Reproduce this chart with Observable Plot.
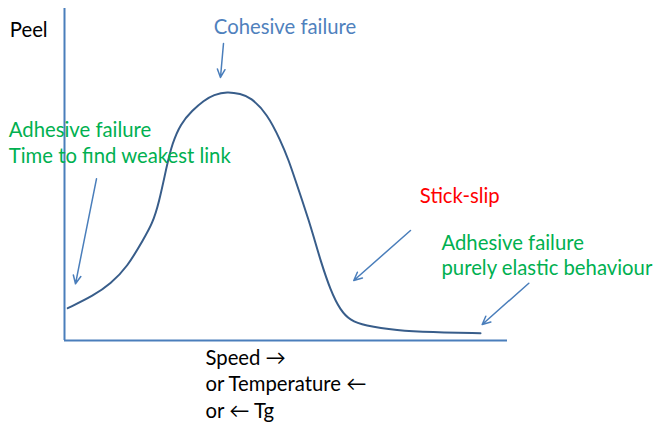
<!DOCTYPE html>
<html>
<head>
<meta charset="utf-8">
<script src="https://cdn.jsdelivr.net/npm/d3@7"></script>
<script src="https://cdn.jsdelivr.net/npm/@observablehq/plot@0.6"></script>
<style>
  html, body { margin: 0; padding: 0; background: #fff; }
  #chart svg { display: block; }
</style>
</head>
<body>
<div id="chart"></div>
<script>
// Peel strength vs speed (schematic), data units 0..100 on both axes
const speed = [0.74, 6.61, 10.38, 14.15, 17.90, 19.80, 21.29, 23.18, 24.31, 26.19, 28.83, 31.44, 33.70, 36.73, 39.73, 41.99, 45.76, 48.76, 50.63, 52.14, 53.66, 55.15, 56.28, 57.79, 60.05, 62.30, 64.56, 67.56, 75.10, 82.62, 93.91];
const peel  = [9.73, 13.55, 17.08, 22.08, 30.63, 35.15, 41.17, 53.22, 59.25, 65.27, 69.28, 72.29, 74.01, 75.00, 74.31, 73.28, 68.28, 60.24, 54.22, 48.19, 42.17, 36.14, 31.11, 24.10, 15.06, 9.04, 6.02, 4.52, 3.01, 2.50, 2.20];

// annotation texts
const labelText  = ["Peel", "Cohesive failure", "Adhesive failure", "Time to find weakest link", "Stick-slip", "Adhesive failure", "purely elastic behaviour", "Speed \u2192", "or Temperature \u2190", "or \u2190 Tg"];
const labelX     = [-12.35, 33.71, -12.57, -12.57, 80.21, 85.10, 85.10, 31.83, 31.83, 31.83];
const labelY     = [91.36, 92.37, 61.24, 53.40, 41.36, 27.11, 19.58, -7.33, -15.26, -23.29];
const labelKind  = ["axis", "cohesive", "adhesive", "adhesive", "stick", "adhesive", "adhesive", "axis", "axis", "axis"];

// annotation arrows (from -> to)
const arrowX1 = [35.89, 7.22, 78.10, 104.81];
const arrowY1 = [89.46, 48.70, 33.13, 17.26];
const arrowX2 = [35.21, 2.48, 65.30, 94.29];
const arrowY2 = [79.22, 17.08, 18.07, 4.82];

const curve = speed.map((s, i) => ({speed: s, peel: peel[i]}));
const labels = labelText.map((t, i) => ({text: t, x: labelX[i], y: labelY[i], kind: labelKind[i]}));
const arrows = arrowX1.map((x1, i) => ({x1, y1: arrowY1[i], x2: arrowX2[i], y2: arrowY2[i]}));

const colorOf = {axis: "#000000", cohesive: "#4f81bd", adhesive: "#00b050", stick: "#ff0000"};

const chart = Plot.plot({
  width: 662,
  height: 426,
  marginLeft: 64,
  marginRight: 155,
  marginTop: 8,
  marginBottom: 86,
  style: {fontFamily: "Lato, 'Open Sans', sans-serif", background: "#fff"},
  x: {domain: [0, 100], axis: null},
  y: {domain: [0, 100], axis: null},
  marks: [
    Plot.ruleX([0], {y1: 0, y2: 100, stroke: "#4a7ebb", strokeWidth: 2}),
    Plot.ruleY([0], {x1: 0, x2: 100, stroke: "#4a7ebb", strokeWidth: 2}),
    Plot.line(curve, {x: "speed", y: "peel", curve: "basis", stroke: "#385d8a", strokeWidth: 2}),
    Plot.arrow(arrows, {x1: "x1", y1: "y1", x2: "x2", y2: "y2", stroke: "#4a7ebb", strokeWidth: 1.5, headLength: 9, headAngle: 50}),
    Plot.text(labels, {x: "x", y: "y", text: "text", fill: d => colorOf[d.kind], textAnchor: "start", lineAnchor: "bottom", fontSize: 20.3})
  ]
});
document.getElementById("chart").appendChild(chart);
</script>
</body>
</html>
